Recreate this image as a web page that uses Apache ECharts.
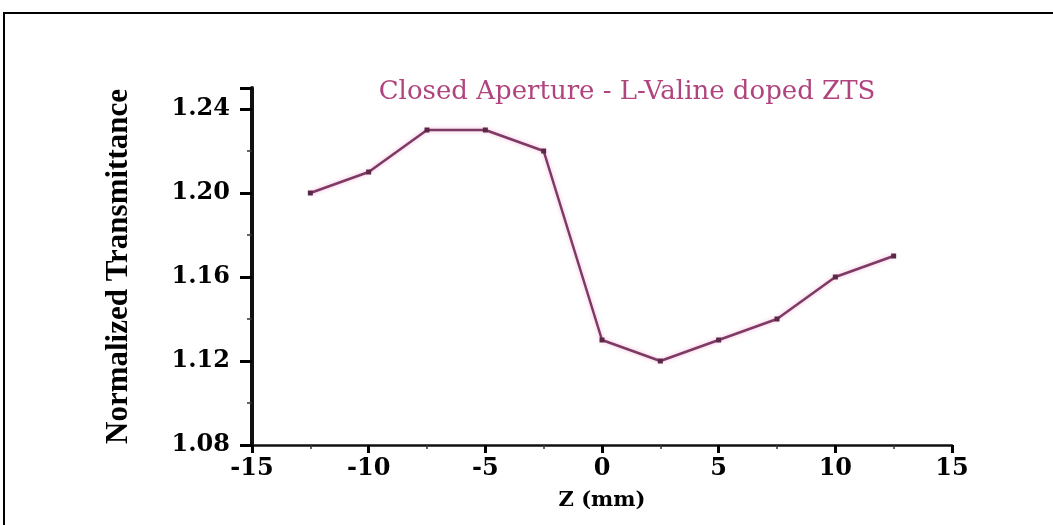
<!DOCTYPE html>
<html>
<head>
<meta charset="utf-8">
<script src="https://cdn.jsdelivr.net/npm/echarts@6/dist/echarts.min.js"></script>
<style>
  html, body { margin: 0; padding: 0; background: #fff; overflow: hidden; }
  #chart { position: absolute; left: 0; top: 0; width: 1053px; height: 525px; }
  #frame {
    position: absolute; left: 3px; top: 12px; right: -10px; bottom: -10px;
    border-left: 2.5px solid #000; border-top: 2.5px solid #000;
    pointer-events: none;
  }
</style>
</head>
<body>
<div id="chart"></div>
<div id="frame"></div>
<script>
// Z-scan, closed aperture: sample position (mm) vs normalized transmittance
const zPositions = [-12.5, -10, -7.5, -5, -2.5, 0, 2.5, 5, 7.5, 10, 12.5];
const transmittance = [1.20, 1.21, 1.23, 1.23, 1.22, 1.13, 1.12, 1.13, 1.14, 1.16, 1.17];
const yTicks = [1.08, 1.12, 1.16, 1.20, 1.24];
const xTicks = [-15, -10, -5, 0, 5, 10, 15];
const yMin = 1.08, yMax = 1.25, yStep = 0.04;

const serifBold = { fontFamily: 'DejaVu Serif', fontWeight: 'bold', color: '#000' };

const chart = echarts.init(document.getElementById('chart'), null, { renderer: 'canvas' });
chart.setOption({
  animation: false,
  backgroundColor: '#fff',
  title: {
    text: 'Closed Aperture - L-Valine doped ZTS',
    left: 622,
    top: 74,
    textAlign: 'center',
    textStyle: { fontFamily: 'DejaVu Serif', fontWeight: 'normal', fontSize: 26, color: '#b0447e' }
  },
  grid: { left: 252, right: 101, top: 88, bottom: 80, containLabel: false },
  xAxis: {
    type: 'value',
    min: xTicks[0],
    max: xTicks[xTicks.length - 1],
    interval: 5,
    name: 'Z (mm)',
    nameLocation: 'middle',
    nameGap: 45,
    nameTextStyle: Object.assign({ fontSize: 21 }, serifBold),
    axisLine: { onZero: false, lineStyle: { color: '#111', width: 2.5 } },
    axisTick: { show: true, length: 8, lineStyle: { color: '#000', width: 3 } },
    minorTick: { show: true, splitNumber: 2, length: 4, lineStyle: { color: '#333', width: 1.5 } },
    splitLine: { show: false },
    axisLabel: Object.assign({ fontSize: 24, margin: 12 }, serifBold)
  },
  yAxis: {
    type: 'value',
    min: yMin,
    max: yMax,
    interval: yStep,
    name: 'Normalized Transmittance',
    nameLocation: 'middle',
    nameGap: 118,
    nameRotate: 90,
    nameTextStyle: { fontFamily: 'Liberation Serif', fontWeight: 'bold', fontSize: 31, color: '#000' },
    axisLine: { onZero: false, lineStyle: { color: '#111', width: 4 } },
    axisTick: { show: true, length: 12, lineStyle: { color: '#000', width: 3 } },
    minorTick: { show: true, splitNumber: 2, length: 5, lineStyle: { color: '#333', width: 1.5 } },
    splitLine: { show: false },
    axisLabel: Object.assign({
      fontSize: 24, margin: 22, showMaxLabel: false,
      formatter: v => (yTicks.some(t => Math.abs(t - v) < 1e-6) ? v.toFixed(2) : '')
    }, serifBold)
  },
  series: [{
    type: 'line',
    data: zPositions.map((z, i) => [z, transmittance[i]]),
    symbol: 'rect',
    symbolSize: 5,
    itemStyle: { color: '#5c2848' },
    lineStyle: {
      color: '#7d3a64', width: 2.5,
      shadowColor: 'rgba(235,120,185,0.55)', shadowBlur: 4
    }
  }]
});
</script>
</body>
</html>
